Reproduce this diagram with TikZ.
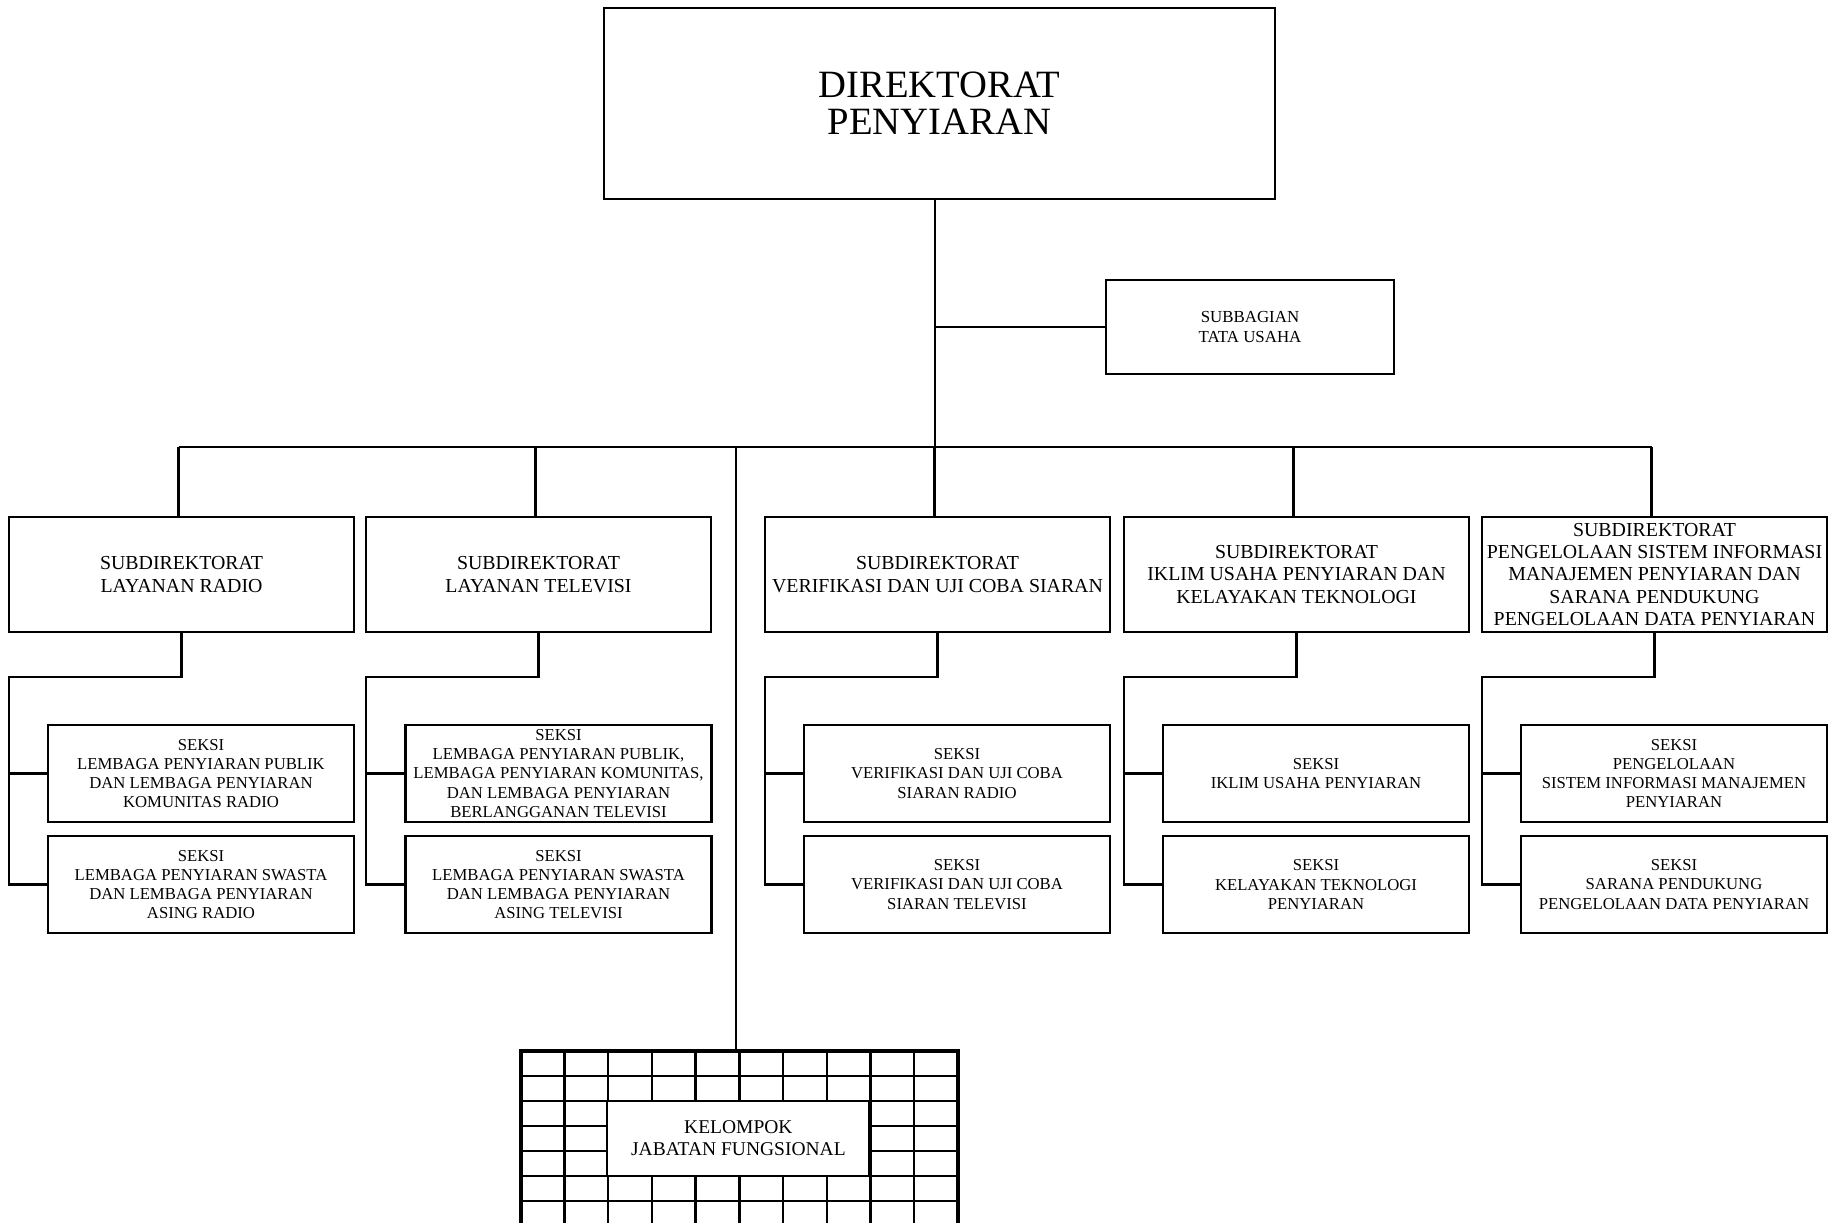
\documentclass[tikz,border=0pt]{standalone}
\usepackage{fontspec}
\setmainfont{Liberation Serif}
\usepackage{tikz}
\usepackage{xcolor}

\tikzset{
  box/.style={draw, line width=1.4pt, inner sep=0pt, outer sep=0pt, align=center},
  dirbox/.style={box, minimum width=13.42cm, minimum height=3.82cm, font=\fontsize{22}{21.2}\selectfont},
  tubox/.style={box, minimum width=5.76cm, minimum height=1.88cm, font=\fontsize{9.6}{11.3}\selectfont},
  subbox/.style={box, minimum width=6.9cm, minimum height=2.3cm, font=\fontsize{11.3}{12.8}\selectfont},
  seksibox/.style={box, minimum width=6.12cm, minimum height=1.94cm, font=\fontsize{9.5}{10.9}\selectfont},
  jfbox/.style={box, fill=white, minimum width=5.25cm, minimum height=1.5cm, font=\fontsize{11.1}{12.5}\selectfont},
  conn/.style={line width=1.4pt}
}

\begin{document}
\begin{tikzpicture}[x=0.02cm, y=-0.02cm]
\useasboundingbox (0,0) rectangle (1828,1223);

% direktorat and tata usaha
\node[dirbox] (dir) at (939.5,103.5) {DIREKTORAT\\PENYIARAN};
\node[tubox] (tu) at (1250,327) {SUBBAGIAN\\TATA USAHA};

% subdirektorat
\node[subbox] (r1) at (181.5,574.5) {SUBDIREKTORAT\\LAYANAN RADIO};
\node[subbox] (r2) at (538.5,574.5) {SUBDIREKTORAT\\LAYANAN TELEVISI};
\node[subbox] (r3) at (937.5,574.5) {SUBDIREKTORAT\\VERIFIKASI DAN UJI COBA SIARAN};
\node[subbox] (r4) at (1296.5,574.5) {SUBDIREKTORAT\\IKLIM USAHA PENYIARAN DAN\\KELAYAKAN TEKNOLOGI};
\node[subbox] (r5) at (1654.5,574.5) {SUBDIREKTORAT\\PENGELOLAAN SISTEM INFORMASI\\MANAJEMEN PENYIARAN DAN\\SARANA PENDUKUNG\\PENGELOLAAN DATA PENYIARAN};

% seksi
\node[seksibox] (a1) at (201,773.5) {SEKSI\\LEMBAGA PENYIARAN PUBLIK\\DAN LEMBAGA PENYIARAN\\KOMUNITAS RADIO};
\node[seksibox] (b1) at (201,884.5) {SEKSI\\LEMBAGA PENYIARAN SWASTA\\DAN LEMBAGA PENYIARAN\\ASING RADIO};
\node[seksibox] (a2) at (558.5,773.5) {SEKSI\\LEMBAGA PENYIARAN PUBLIK,\\LEMBAGA PENYIARAN KOMUNITAS,\\DAN LEMBAGA PENYIARAN\\BERLANGGANAN TELEVISI};
\node[seksibox] (b2) at (558.5,884.5) {SEKSI\\LEMBAGA PENYIARAN SWASTA\\DAN LEMBAGA PENYIARAN\\ASING TELEVISI};
\node[seksibox] (a3) at (957,773.5) {SEKSI\\VERIFIKASI DAN UJI COBA\\SIARAN RADIO};
\node[seksibox] (b3) at (957,884.5) {SEKSI\\VERIFIKASI DAN UJI COBA\\SIARAN TELEVISI};
\node[seksibox] (a4) at (1316,773.5) {SEKSI\\IKLIM USAHA PENYIARAN};
\node[seksibox] (b4) at (1316,884.5) {SEKSI\\KELAYAKAN TEKNOLOGI\\PENYIARAN};
\node[seksibox] (a5) at (1674,773.5) {SEKSI\\PENGELOLAAN\\SISTEM INFORMASI MANAJEMEN\\PENYIARAN};
\node[seksibox] (b5) at (1674,884.5) {SEKSI\\SARANA PENDUKUNG\\PENGELOLAAN DATA PENYIARAN};

% kelompok jabatan fungsional (grid)
\draw[line width=1.3pt] foreach \c in {1,...,9} {(520.7+43.73*\c,1051) -- (520.7+43.73*\c,1226)};
\draw[line width=1.3pt] foreach \r in {1,...,6} {(520.7,1051+25*\r) -- (958,1051+25*\r)};
\draw[line width=2.2pt] (520.7,1051) rectangle (958,1226);
\node[jfbox] (kjf) at (738.4,1138.5) {KELOMPOK\\JABATAN FUNGSIONAL};
\coordinate (kjftop) at (736,1051);

% connectors
\coordinate (bus) at (0,447);
\coordinate (lvl) at (0,677);
\coordinate (axis) at (935,0);
\draw[conn] (dir.south -| axis) -- (axis |- bus);
\draw[conn] (tu.west) -- (tu.west -| axis);
\draw[conn] ([xshift=-0.06cm]r1.north |- bus) -- ([xshift=-0.06cm]r5.north |- bus);
\draw[conn] (kjftop) -- (kjftop |- bus);
\foreach \i in {1,...,5} {
  \draw[conn] ([xshift=-0.06cm]r\i.north) -- ([xshift=-0.06cm]r\i.north |- bus);
  \draw[conn] (r\i.south) |- (r\i.west |- lvl) -- (r\i.west |- b\i.west) -- (b\i.west);
  \draw[conn] (r\i.west |- a\i.west) -- (a\i.west);
}
\end{tikzpicture}
\end{document}
